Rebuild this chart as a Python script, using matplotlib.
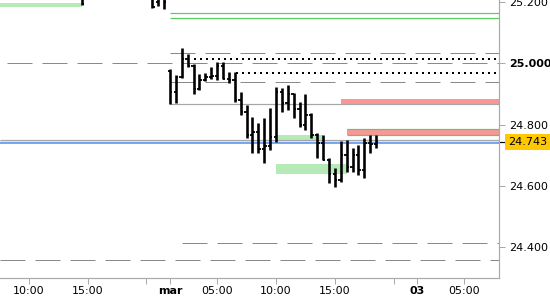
import numpy as np
import matplotlib
matplotlib.use("Agg")
import matplotlib.pyplot as plt
import matplotlib.transforms as mtransforms

# x is trading time in hours, 0 = first bar of "mar" (01:00), 22:00 -> 01:00 gap removed
bar_x = [-7.5, -1.5, -1.0, -0.5,
         0.0, 0.5, 1.0, 1.5, 2.0, 2.5, 3.0, 3.5, 4.0, 4.5, 5.0, 5.5,
         6.0, 6.5, 7.0, 7.5, 8.0, 8.5, 9.0, 9.5, 10.0, 10.5, 11.0, 11.5,
         12.0, 12.5, 13.0, 13.5, 14.0, 14.5, 15.0, 15.5, 16.0, 16.5, 17.0, 17.5]
bar_high = [25.250, 25.240, 25.240, 25.235,
            24.981, 24.962, 25.050, 25.030, 24.998, 24.965, 24.968, 24.988,
            25.004, 25.004, 24.972, 24.972, 24.906, 24.864, 24.825, 24.805,
            24.821, 24.854, 24.923, 24.919, 24.929, 24.903, 24.874, 24.900,
            24.838, 24.772, 24.766, 24.691, 24.658, 24.746, 24.750, 24.723,
            24.733, 24.756, 24.766, 24.766]
bar_low = [25.190, 25.180, 25.186, 25.176,
           24.867, 24.870, 24.952, 24.988, 24.900, 24.913, 24.942, 24.949,
           24.945, 24.949, 24.936, 24.874, 24.831, 24.757, 24.707, 24.707,
           24.674, 24.717, 24.743, 24.841, 24.848, 24.821, 24.792, 24.782,
           24.756, 24.691, 24.685, 24.609, 24.596, 24.612, 24.645, 24.645,
           24.635, 24.625, 24.707, 24.723]
bar_open = [25.230, 25.220, 25.200, 25.215,
            24.975, 24.905, 24.955, 25.015, 24.990, 24.915, 24.945, 24.955,
            24.960, 24.990, 24.950, 24.945, 24.880, 24.840, 24.765, 24.775,
            24.720, 24.730, 24.760, 24.905, 24.870, 24.900, 24.850, 24.800,
            24.830, 24.765, 24.740, 24.685, 24.640, 24.620, 24.700, 24.660,
            24.700, 24.650, 24.740, 24.735]
bar_close = [25.195, 25.185, 25.215, 25.200,
             24.905, 24.955, 25.015, 24.990, 24.915, 24.945, 24.955, 24.960,
             24.990, 24.950, 24.945, 24.880, 24.840, 24.765, 24.775, 24.720,
             24.730, 24.760, 24.905, 24.870, 24.900, 24.850, 24.800, 24.830,
             24.765, 24.740, 24.685, 24.640, 24.620, 24.700, 24.660, 24.700,
             24.650, 24.740, 24.735, 24.743]

last_price = 24.743

x_ticks = [-12, -7, 0, 4, 9, 14, 21, 25]
x_labels = ["10:00", "15:00", "mar", "05:00", "10:00", "15:00", "03", "05:00"]
x_minor = [-2, 19]
y_ticks = [24.4, 24.6, 24.8, 25.0, 25.2]
y_labels = ["24.400", "24.600", "24.800", "25.000", "25.200"]

x0, x1 = -14.43, 27.93
y0, y1 = 24.299, 25.2067

fig = plt.figure(figsize=(5.5, 3), dpi=100)
ax = fig.add_axes([0, 22 / 300, 499 / 550, 278 / 300])
ax.set_xlim(x0, x1)
ax.set_ylim(y0, y1)

px = 0.72  # one pixel in points
dash = (0, (25, 10))
dot = (0, (1, 2))
gray_d = "#8a8a8a"
gray_s = "#a6a6a6"
green = "#5ccc5c"
lgreen = "#b6eab6"
red = "#fa9696"

# zones
ax.fill_between([x0, -7.5], 25.183, 25.196, color=lgreen, lw=0, zorder=1)
ax.fill_between([9.0, 13.0], 24.746, 24.766, color=lgreen, lw=0, zorder=1)
ax.fill_between([9.0, 15.0], 24.639, 24.671, color=lgreen, lw=0, zorder=1)
ax.fill_between([14.5, x1], 24.867, 24.883, color=red, lw=0, zorder=1)
ax.fill_between([15.0, x1], 24.767, 24.785, color=red, lw=0, zorder=1)
ax.hlines([24.787, 24.765], 15.0, x1, color=green, lw=1.2 * px, zorder=2)
ax.fill_between([x0, x1], 24.741, 24.751, color="#e6e8f2", lw=0, zorder=1)

# levels
ax.hlines([25.163, 25.147], 0, x1, color=green, lw=1.2 * px, zorder=2)
ax.hlines(25.034, 0, x1, color=gray_d, lw=px, linestyles=dash, zorder=2)
ax.hlines(25.000, x0 + 0.6, x1, color=gray_d, lw=px, linestyles=dash, zorder=2)
ax.hlines(24.939, 0, x1, color=gray_d, lw=px, linestyles=dash, zorder=2)
ax.hlines(24.412, 1.0, x1, color=gray_d, lw=px, linestyles=dash, zorder=2)
ax.hlines(24.358, x0, x1, color=gray_d, lw=px, linestyles=dash, zorder=2)
ax.hlines(25.014, 2.0, x1, color="black", lw=2 * px, linestyles=dot, zorder=2)
ax.hlines(24.969, 5.6, x1, color="black", lw=2 * px, linestyles=dot, zorder=2)
ax.hlines(24.867, 0, x1, color=gray_s, lw=1.2 * px, zorder=2)
ax.hlines(24.751, x0, x1, color=gray_s, lw=1.2 * px, zorder=2)
ax.hlines(last_price - 0.002, x0, x1, color="#5b93ec", lw=1.6 * px, zorder=2)

# OHLC bars
bx = np.array(bar_x)
ax.vlines(bx, bar_low, bar_high, color="black", lw=2.6 * px, zorder=3)
ax.hlines(bar_open, bx - 0.2, bx, color="black", lw=1.8 * px, zorder=3)
ax.hlines(bar_close, bx, bx + 0.2, color="black", lw=1.8 * px, zorder=3)

# axes styling
for s in ["left", "top"]:
    ax.spines[s].set_visible(False)
for s in ["right", "bottom"]:
    ax.spines[s].set_color("#aaaaaa")
    ax.spines[s].set_linewidth(1.2 * px)

ax.yaxis.tick_right()
ax.set_yticks(y_ticks)
ax.set_yticklabels(y_labels)
ax.set_xticks(x_ticks)
ax.set_xticklabels(x_labels)
ax.set_xticks(x_minor, minor=True)
ax.tick_params(axis="both", which="both", colors="#aaaaaa", labelcolor="black",
               labelsize=8, length=4, width=px)
ax.tick_params(axis="y", pad=3)
ax.tick_params(axis="x", pad=2)
ax.get_yticklabels()[3].set_fontweight("bold")
ax.get_xticklabels()[2].set_fontweight("bold")
ax.get_xticklabels()[6].set_fontweight("bold")

# last price marker
trans = mtransforms.blended_transform_factory(ax.transAxes, ax.transData)
ax.plot([1.0, 1.012], [last_price, last_price], color="black", lw=1.2 * px,
        transform=trans, clip_on=False)
ax.text(1.0 + 9 / 499, last_price, "24.743", transform=trans, fontsize=8,
        va="center", ha="left",
        bbox=dict(boxstyle="square,pad=0.3", fc="#ffc800", ec="none"))

fig.savefig("out.png", dpi=100)
